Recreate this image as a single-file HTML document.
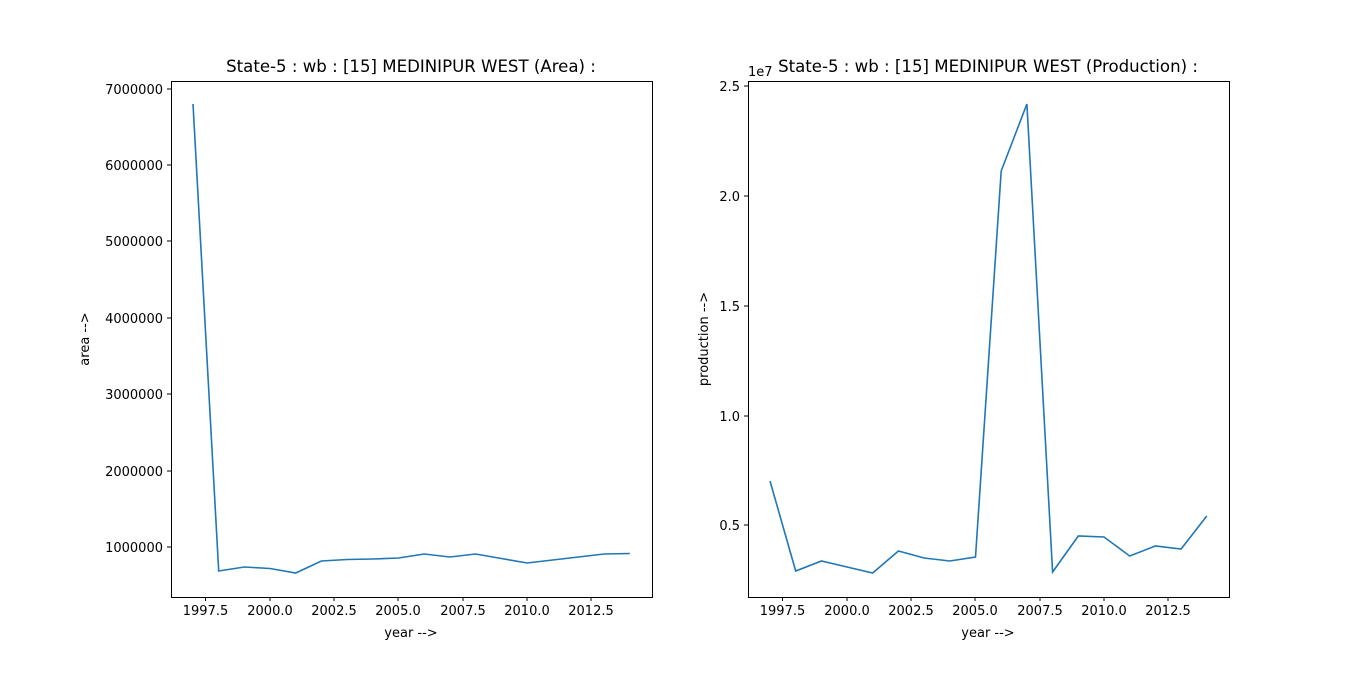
<!DOCTYPE html>
<html><head><meta charset="utf-8"><style>
html,body{margin:0;padding:0;background:#fff;}
svg text{font-family:"DejaVu Sans","Liberation Sans",sans-serif;fill:#000;}
</style></head><body>
<svg width="1366" height="671" viewBox="0 0 1366 671" xmlns="http://www.w3.org/2000/svg">
<rect width="1366" height="671" fill="#fff"/>
<!-- Left -->
<text x="411" y="72" font-size="16.6" text-anchor="middle">State-5 : wb : [15] MEDINIPUR WEST (Area) :</text>
<rect x="171.5" y="81.5" width="481" height="516" fill="none" stroke="#000" stroke-width="1"/>
<g stroke="#000" stroke-width="1">
<line x1="205.5" y1="597" x2="205.5" y2="601"/><line x1="270" y1="597" x2="270" y2="601"/>
<line x1="334" y1="597" x2="334" y2="601"/><line x1="398" y1="597" x2="398" y2="601"/>
<line x1="463" y1="597" x2="463" y2="601"/><line x1="527" y1="597" x2="527" y2="601"/>
<line x1="591" y1="597" x2="591" y2="601"/>
<line x1="167" y1="89" x2="171" y2="89"/><line x1="167" y1="165" x2="171" y2="165"/>
<line x1="167" y1="241" x2="171" y2="241"/><line x1="167" y1="318" x2="171" y2="318"/>
<line x1="167" y1="394" x2="171" y2="394"/><line x1="167" y1="471" x2="171" y2="471"/>
<line x1="167" y1="547" x2="171" y2="547"/>
</g>
<g font-size="13" text-anchor="middle">
<text x="205.5" y="615">1997.5</text><text x="270" y="615">2000.0</text><text x="334" y="615">2002.5</text>
<text x="398" y="615">2005.0</text><text x="463" y="615">2007.5</text><text x="527" y="615">2010.0</text>
<text x="591" y="615">2012.5</text>
</g>
<g font-size="13" text-anchor="end">
<text x="163" y="94">7000000</text><text x="163" y="170">6000000</text><text x="163" y="246">5000000</text>
<text x="163" y="323">4000000</text><text x="163" y="399">3000000</text><text x="163" y="476">2000000</text>
<text x="163" y="552">1000000</text>
</g>
<text x="411" y="637" font-size="13" text-anchor="middle">year --&gt;</text>
<text transform="translate(89,339) rotate(-90)" font-size="13" text-anchor="middle">area --&gt;</text>
<polyline fill="none" stroke="#1f77b4" stroke-width="1.6" points="193,104 218.7,571 244.4,567 270,568.5 295.7,573 321.4,561 347.1,559.5 372.8,559 398.5,558 424.2,554 449.9,557 475.6,554 501.3,558.5 527,563 552.7,560 578.4,557 604.1,554 629.8,553.5"/>
<!-- Right -->
<text x="988" y="72" font-size="16.6" text-anchor="middle">State-5 : wb : [15] MEDINIPUR WEST (Production) :</text>
<text x="748" y="76" font-size="13">1e7</text>
<rect x="748.5" y="81.5" width="481" height="516" fill="none" stroke="#000" stroke-width="1"/>
<g stroke="#000" stroke-width="1">
<line x1="782.5" y1="597" x2="782.5" y2="601"/><line x1="847" y1="597" x2="847" y2="601"/>
<line x1="911" y1="597" x2="911" y2="601"/><line x1="975" y1="597" x2="975" y2="601"/>
<line x1="1040" y1="597" x2="1040" y2="601"/><line x1="1104" y1="597" x2="1104" y2="601"/>
<line x1="1168" y1="597" x2="1168" y2="601"/>
<line x1="744" y1="86" x2="748" y2="86"/><line x1="744" y1="196" x2="748" y2="196"/>
<line x1="744" y1="306" x2="748" y2="306"/><line x1="744" y1="416" x2="748" y2="416"/>
<line x1="744" y1="525" x2="748" y2="525"/>
</g>
<g font-size="13" text-anchor="middle">
<text x="782.5" y="615">1997.5</text><text x="847" y="615">2000.0</text><text x="911" y="615">2002.5</text>
<text x="975" y="615">2005.0</text><text x="1040" y="615">2007.5</text><text x="1104" y="615">2010.0</text>
<text x="1168" y="615">2012.5</text>
</g>
<g font-size="13" text-anchor="end">
<text x="740" y="91">2.5</text><text x="740" y="201">2.0</text><text x="740" y="311">1.5</text>
<text x="740" y="421">1.0</text><text x="740" y="530">0.5</text>
</g>
<text x="988" y="637" font-size="13" text-anchor="middle">year --&gt;</text>
<text transform="translate(708,339) rotate(-90)" font-size="13" text-anchor="middle">production --&gt;</text>
<polyline fill="none" stroke="#1f77b4" stroke-width="1.6" points="770,481 795.7,571 821.4,561 847,567 872.7,573 898.4,551 924.1,558 949.8,561 975.5,557 1001.2,171 1026.9,104 1052.6,572 1078.3,536 1104,537 1129.7,556 1155.4,546 1181.1,549 1206.8,516"/>
</svg>
</body></html>
